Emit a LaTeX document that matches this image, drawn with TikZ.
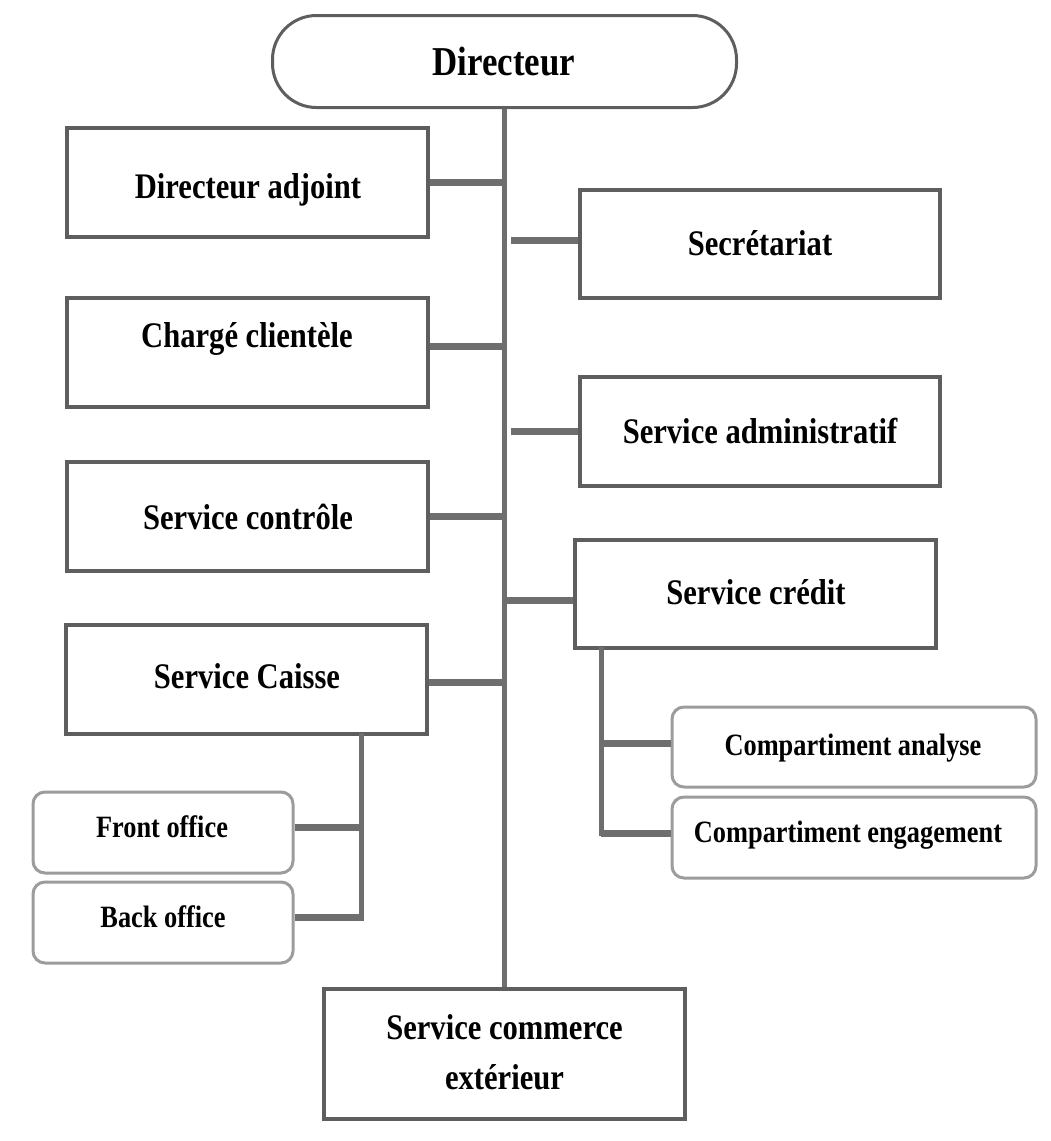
\documentclass[tikz,border=0pt]{standalone}
\usepackage{fontspec}
\setmainfont{Liberation Serif}[FakeStretch=0.85]
\definecolor{boxline}{HTML}{5E5E5E}
\definecolor{subline}{HTML}{9C9C9C}
\definecolor{linkcol}{HTML}{6E6E6E}
\begin{document}
\begin{tikzpicture}[x=1pt,y=-1pt,
  box/.style={draw=boxline, line width=3.5pt, fill=white, inner sep=0pt,
              minimum width=361pt, minimum height=109pt},
  subbox/.style={draw=subline, line width=3pt, rounded corners=12pt, fill=white,
                 inner sep=0pt, minimum height=81pt},
  headbox/.style={draw=boxline, line width=3pt, rounded corners=44pt, fill=white,
                  inner sep=0pt, minimum width=464pt, minimum height=92pt},
  txt/.style={font=\fontsize{36}{50}\selectfont\bfseries, text height=23.8pt,
              text depth=0pt, inner sep=0pt, align=center},
  subtxt/.style={font=\fontsize{31}{36}\selectfont\bfseries, text height=20.5pt,
                 text depth=0pt, inner sep=0pt},
  headtxt/.style={font=\fontsize{41}{46}\selectfont\bfseries, text height=27pt,
                  text depth=0pt, inner sep=0pt},
  trunk/.style={draw=linkcol, line width=5pt},
  branch/.style={draw=linkcol, line width=7pt},
  subtrunk/.style={draw=linkcol, line width=5pt, line cap=rect},
]
% page
\useasboundingbox[fill=white] (0,0) rectangle (1051,1141);

% head
\node[headbox] (dir) at (504.5,61.5) {};
\node[headtxt] (dirt) at (504,62) {Directeur};

% bottom box
\node[box, minimum height=130pt] (sce) at (504.5,1054) {};

% main trunk
\draw[trunk] (dir.south) -- (sce.north);
\node[font=\fontsize{36}{50}\selectfont\bfseries, align=center, inner sep=0pt]
  (scet) at (504.5,1052) {Service commerce\\extérieur};

% left column
\node[box] (da) at (247.5,182.5) {};
\node[txt] (dat) at (248,187) {Directeur adjoint};
\node[box] (cc) at (247.5,352.5) {};
\node[txt] (cct) at (247,336) {Chargé clientèle};
\node[box] (ctl) at (247.5,516.5) {};
\node[txt] (ctlt) at (248,518) {Service contrôle};
\node[box] (sc) at (246.5,679.5) {};
\node[txt] (sct) at (247,677) {Service Caisse};

% right column
\node[box, minimum width=360pt, minimum height=108pt] (sec) at (760,244) {};
\node[txt] (sect) at (760,244) {Secrétariat};
\node[box, minimum width=360pt] (adm) at (760,431.5) {};
\node[txt] (admt) at (760,432) {Service administratif};
\node[box, minimum height=108pt] (cr) at (755.5,594) {};
\node[txt] (crt) at (756,593) {Service crédit};

% branches to the trunk
\draw[branch] (da.east) -- (da.east -| dir.south);
\draw[branch] ([yshift=6pt]cc.east) -- ([yshift=6pt]cc.east -| dir.south);
\draw[branch] (ctl.east) -- (ctl.east -| dir.south);
\draw[branch] ([yshift=-3pt]sc.east) -- ([yshift=-3pt]sc.east -| dir.south);
\draw[branch] ([yshift=4pt]sec.west) -- ([yshift=4pt,xshift=6pt]sec.west -| dir.south);
\draw[branch] (adm.west) -- ([xshift=6pt]adm.west -| dir.south);
\draw[branch] ([yshift=-6pt]cr.west) -- ([yshift=-6pt]cr.west -| dir.south);

% cash desk sub-units
\node[subbox, minimum width=260pt] (fo) at (163,832.5) {};
\node[subtxt] (fot) at (162,827) {Front office};
\node[subbox, minimum width=260pt] (bo) at (163,922.5) {};
\node[subtxt] (bot) at (163,917) {Back office};
\coordinate (cj) at (361,918);
\draw[subtrunk] (cj |- sc.south) -- (cj);
\draw[branch] ([yshift=5pt]fo.east) -- ([yshift=5pt]fo.east -| cj);
\draw[branch] ([yshift=5pt]bo.east) -- ([yshift=5pt]bo.east -| cj);

% credit sub-units
\node[subbox, minimum width=364pt, minimum height=80pt] (ca) at (854,747) {};
\node[subtxt] (cat) at (853,745) {Compartiment analyse};
\node[subbox, minimum width=364pt] (ce) at (854,837.5) {};
\node[subtxt] (cet) at (848,832) {Compartiment engagement};
\coordinate (rj) at (601,833);
\draw[subtrunk] (rj |- cr.south) -- (rj);
\draw[branch] ([yshift=4pt]ca.west) -- ([yshift=4pt]ca.west -| rj);
\draw[branch] ([yshift=4pt]ce.west) -- ([yshift=4pt]ce.west -| rj);
\end{tikzpicture}
\end{document}
